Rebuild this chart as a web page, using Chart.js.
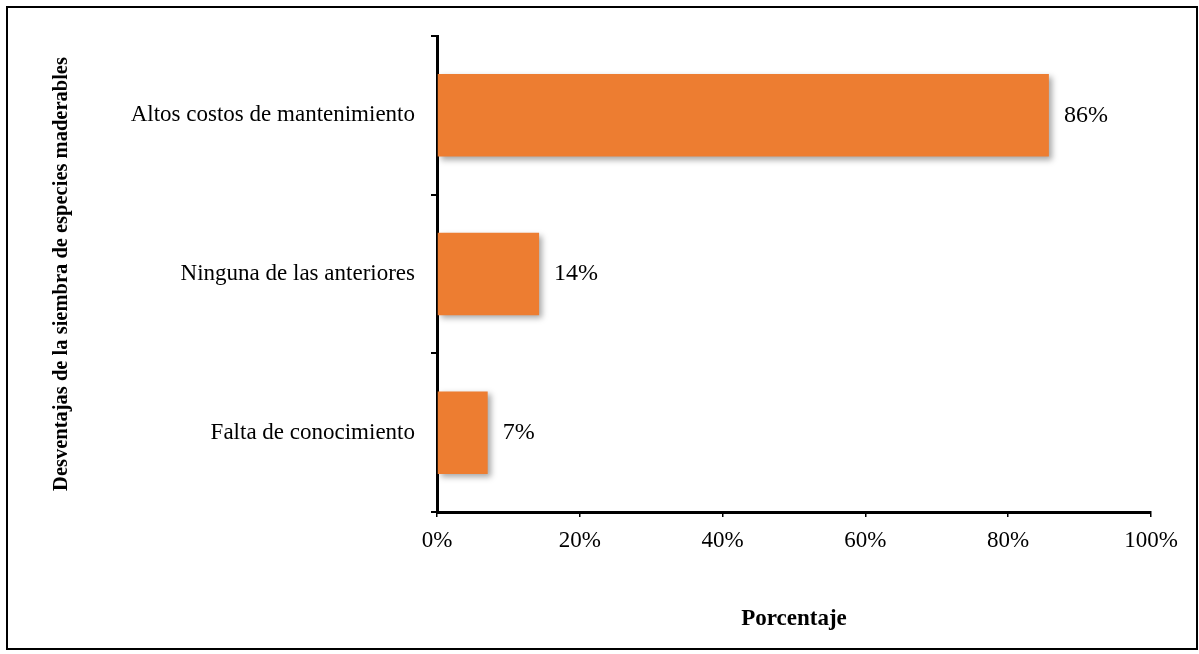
<!DOCTYPE html>
<html>
<head>
<meta charset="utf-8">
<script src="https://cdn.jsdelivr.net/npm/chart.js@4.4.0/dist/chart.umd.min.js"></script>
<style>
    body { margin: 0; background: #fff; }
    #wrap { position: relative; width: 1199px; height: 654px; }
    #frame {
        position: absolute; left: 6px; top: 6px; width: 1188px; height: 640px;
        border: 2px solid #000; pointer-events: none;
    }
    #barChart { position: absolute; left: 0; top: 0; }
</style>
</head>
<body>
<div id="wrap">
    <canvas id="barChart" width="1199" height="654"></canvas>
    <div id="frame"></div>
</div>
<script>
const categories = ["Altos costos de mantenimiento", "Ninguna de las anteriores", "Falta de conocimiento"];
const porcentajes = [85.7, 14.3, 7.1];
const etiquetas = ["86%", "14%", "7%"];
const xTicks = [0, 20, 40, 60, 80, 100];

const serif = "'Liberation Serif', 'Times New Roman', serif";

// sombra suave detras de las barras
const barShadow = {
    id: "barShadow",
    beforeDatasetDraw(chart) {
        const c = chart.ctx;
        c.save();
        c.shadowColor = "rgba(0,0,0,0.35)";
        c.shadowBlur = 6;
        c.shadowOffsetX = 3;
        c.shadowOffsetY = 3;
    },
    afterDatasetDraw(chart) {
        chart.ctx.restore();
    }
};

// etiquetas de valor al final de cada barra
const valueLabels = {
    id: "valueLabels",
    afterDatasetsDraw(chart) {
        const c = chart.ctx;
        const meta = chart.getDatasetMeta(0);
        c.save();
        c.font = "24px " + serif;
        c.fillStyle = "#000";
        c.textAlign = "left";
        c.textBaseline = "middle";
        meta.data.forEach((bar, i) => {
            c.fillText(etiquetas[i], bar.x + 15, bar.y);
        });
        c.restore();
    }
};

let ctx = document.getElementById("barChart").getContext("2d");

new Chart(ctx, {
    type: "bar",
    data: {
        labels: categories,
        datasets: [{
            data: porcentajes,
            backgroundColor: "#ED7D31",
            borderWidth: 0,
            barPercentage: 0.52,
            categoryPercentage: 1
        }]
    },
    options: {
        indexAxis: "y",
        responsive: false,
        animation: false,
        layout: { padding: { left: 40, top: 36, right: 48, bottom: 18 } },
        plugins: {
            legend: { display: false },
            tooltip: { enabled: false }
        },
        scales: {
            x: {
                min: 0,
                max: 100,
                afterBuildTicks: axis => { axis.ticks = xTicks.map(v => ({ value: v })); },
                afterFit: axis => { axis.height = 124; },
                ticks: {
                    callback: v => v + "%",
                    color: "#000",
                    font: { family: serif, size: 23 },
                    padding: 10
                },
                grid: { drawOnChartArea: false, drawTicks: true, tickLength: 5, color: "#000", lineWidth: 1.5 },
                border: { display: true, color: "#000", width: 3 },
                title: {
                    display: true,
                    text: "Porcentaje",
                    color: "#000",
                    font: { family: serif, size: 23, weight: "bold" },
                    padding: { top: 0, bottom: 3 }
                }
            },
            y: {
                afterFit: axis => { axis.width = 397; },
                ticks: {
                    color: "#000",
                    font: { family: serif, size: 23 },
                    padding: 16
                },
                grid: { offset: true, drawOnChartArea: false, drawTicks: true, tickLength: 6, color: "#000", lineWidth: 2 },
                border: { display: true, color: "#000", width: 3 },
                title: {
                    display: true,
                    text: "Desventajas de la siembra de especies maderables",
                    color: "#000",
                    font: { family: serif, size: 20.5, weight: "bold" },
                    padding: { top: 9, bottom: 0 }
                }
            }
        }
    },
    plugins: [barShadow, valueLabels]
});
</script>
</body>
</html>
